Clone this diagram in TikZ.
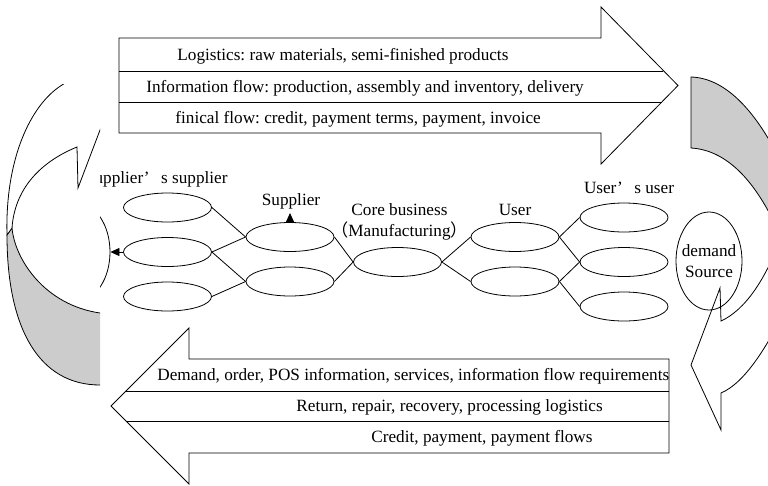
\documentclass[tikz,border=0pt]{standalone}
\usepackage{fontspec}
\setmainfont{Liberation Serif}
\newfontfamily\cjk{Noto Sans CJK SC}
\usetikzlibrary{shapes.geometric, arrows.meta}
\definecolor{bandgray}{RGB}{204,204,204}
\frenchspacing

\begin{document}
\begin{tikzpicture}[x=1pt, y=-1pt, line width=0.8pt, node distance=44.5pt,
  font=\fontsize{17.2pt}{21.5pt}\selectfont,
  firm/.style = {draw, ellipse, inner sep=0pt, minimum width=88pt, minimum height=29pt},
  source/.style = {draw, ellipse, inner sep=0pt, minimum width=66pt, minimum height=98pt},
  txt/.style = {inner sep=0pt, anchor=base west},
  tip/.style = {-{Triangle[length=9pt, width=8pt]}},
  band/.style = {draw, fill=bandgray}]

\clip (0,0) rectangle (768,485);

% forward flows
\draw (119,38) -- (601,38) -- (601,7) -- (678,85.5) -- (601,164) -- (601,133) -- (119,133) -- cycle;
\draw (119,71) -- (663,71);
\draw (119,102) -- (662,102);
\node[txt] (log) at (177,60.5) {Logistics: raw materials, semi-finished products};
\node[txt] (info) at (146,92.5) {Information flow: production, assembly and inventory, delivery};
\node[txt] (fin) at (175,123.5) {finical flow: credit, payment terms, payment, invoice};

% backward flows
\draw (669,359) -- (189,359) -- (189,328) -- (111,406) -- (189,484) -- (189,453) -- (669,453) -- cycle;
\draw (669,391) -- (126,391);
\draw (669,421) -- (126,421);
\node[txt] (dem) at (157,380) {Demand, order, POS information, services, information flow requirements};
\node[txt] (ret) at (296,411) {Return, repair, recovery, processing logistics};
\node[txt] (cred) at (371,442) {Credit, payment, payment flows};

% chain members
\node[firm] (ss1) at (167.5,207.5) {};
\node[firm] (ss2) [below of=ss1] {};
\node[firm] (ss3) [below of=ss2] {};
\node[firm] (sup1) at (290,237) {};
\node[firm] (sup2) [below of=sup1] {};
\node[firm] (core) at (397.5,262) {};
\node[firm] (usr1) at (515,237) {};
\node[firm] (usr2) [below of=usr1] {};
\node[firm] (uu1) at (624,217.5) {};
\node[firm] (uu2) [below of=uu1] {};
\node[firm] (uu3) [below of=uu2] {};
\node[source] (sink) at (77,252) {};
\coordinate (suptip) at (290,213);

\draw (ss1.east) -- (sup1.west);
\draw (ss2.east) -- (sup1.west);
\draw (ss2.east) -- (sup2.west);
\draw (ss3.east) -- (sup2.west);
\draw (sup1.east) -- (core.west);
\draw (sup2.east) -- (core.west);
\draw (core.east) -- (usr1.west);
\draw (core.east) -- (usr2.west);
\draw (usr1.east) -- (uu1.west);
\draw (usr1.east) -- (uu2.west);
\draw (usr2.east) -- (uu2.west);
\draw (usr2.east) -- (uu3.west);
\draw[tip] (ss2.west) -- (sink.east);
\draw[tip] (sup1.north) -- (suptip);

\node[txt, anchor=base east] (sslab) at (228,183) {Supplier’\kern0.67em s supplier};
\node[txt, anchor=base] (suplab) at (291,205) {Supplier};
\node[inner sep=0pt, align=center] (corelab) at (399.5,221.75) {Core business\\{\cjk （}Manufacturing{\cjk ）}};
\node[txt, anchor=base] (usrlab) at (515,215) {User};
\node[txt, anchor=base] (uulab) at (629,193) {User’\kern0.67em s user};

% left return loop
\begin{scope}
  \clip (0,84) rectangle (100,485);
  \fill[white] (0,84) rectangle (100,485);
  \filldraw[band] (12,228) .. controls (15,260) and (45,305) .. (100,313) -- (110,313)
    -- (110,385) -- (100,385) .. controls (40,385) and (7,330) .. (7,235) -- cycle;
  \filldraw[fill=white] (7,235) .. controls (5,160) and (30,105) .. (62,85) -- (94,65)
    -- (130,65) -- (108,109) -- (78,188) -- (77,147) .. controls (45,160) and (15,185) .. (12,228) -- cycle;
\end{scope}

% right return loop
\filldraw[band] (691,77) .. controls (725,78) and (755,110) .. (780,160) -- (780,235)
  .. controls (755,178) and (725,150) .. (691,148) -- cycle;
\filldraw[fill=white] (780,240) .. controls (765,280) and (745,310) .. (721,321) -- (720,288)
  -- (691,365) -- (721,430) -- (721,393) .. controls (745,383) and (768,345) .. (785,310) -- cycle;
\node[source] (src) at (709,261) {};
\node[inner sep=0pt, align=center] (srclab) at (src) {demand\\Source};

\end{tikzpicture}
\end{document}
